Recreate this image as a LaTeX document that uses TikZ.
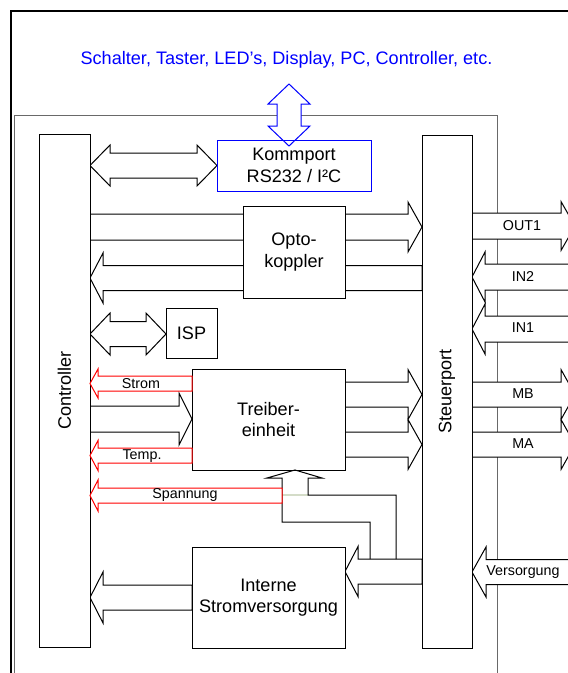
\documentclass[tikz,border=0pt]{standalone}
\usepackage{fontspec}
\setmainfont{Liberation Sans}
\usetikzlibrary{calc}
\definecolor{myblue}{RGB}{0,0,255}
\definecolor{myred}{RGB}{255,0,0}
\definecolor{framegray}{RGB}{105,105,105}
\definecolor{seam}{RGB}{212,220,200}
% right-pointing block arrow: [opts]{tail}{tip}{yc}{shaft half}{head half}{head length}
\newcommand\ArrR[7][]{\draw[blk,#1] let \p1=(#2), \p2=(#3), \p3=(0,#4) in
  (\x1,\y3-#5pt) -- (\x2-#7pt,\y3-#5pt) -- (\x2-#7pt,\y3-#6pt) -- (\x2,\y3) --
  (\x2-#7pt,\y3+#6pt) -- (\x2-#7pt,\y3+#5pt) -- (\x1,\y3+#5pt) -- cycle;}
% left-pointing block arrow: [opts]{tip}{tail}{yc}{shaft half}{head half}{head length}
\newcommand\ArrL[7][]{\draw[blk,#1] let \p1=(#2), \p2=(#3), \p3=(0,#4) in
  (\x2,\y3-#5pt) -- (\x1+#7pt,\y3-#5pt) -- (\x1+#7pt,\y3-#6pt) -- (\x1,\y3) --
  (\x1+#7pt,\y3+#6pt) -- (\x1+#7pt,\y3+#5pt) -- (\x2,\y3+#5pt) -- cycle;}
% double block arrow: [opts]{left tip}{right tip}{yc}{shaft half}{head half}{head length}
\newcommand\ArrLR[7][]{\draw[blk,#1] let \p1=(#2), \p2=(#3), \p3=(0,#4) in
  (\x1,\y3) -- (\x1+#7pt,\y3-#6pt) -- (\x1+#7pt,\y3-#5pt) -- (\x2-#7pt,\y3-#5pt) --
  (\x2-#7pt,\y3-#6pt) -- (\x2,\y3) -- (\x2-#7pt,\y3+#6pt) -- (\x2-#7pt,\y3+#5pt) --
  (\x1+#7pt,\y3+#5pt) -- (\x1+#7pt,\y3+#6pt) -- cycle;}
\begin{document}
\begin{tikzpicture}[x=1pt,y=-1pt,
  blk/.style={draw=black,fill=white,line width=1pt,line join=miter},
  redarr/.style={draw=myred},
  box/.style={draw=black,fill=white,line width=1pt,inner sep=0pt,outer sep=0pt,
    anchor=north west,align=center,font=\fontsize{18.1pt}{21.5pt}\selectfont},
  biglbl/.style={inner sep=0pt,align=center,font=\fontsize{18.1pt}{21.5pt}\selectfont},
  smalllbl/.style={inner sep=0pt,font=\fontsize{14.3pt}{16pt}\selectfont}]
\useasboundingbox (0,0) rectangle (568,673);
\clip (0,0) rectangle (568,673);
% frames
\draw[line width=2pt,black] (11,10.5) rectangle (600,700);
\draw[line width=1pt,framegray] (14,115) rectangle (497.5,700);
% title
\node[biglbl,text=myblue] (title) at (286.5,60) {Schalter, Taster, LED’s, Display, PC, Controller, etc.};
% helper coordinates
\coordinate (redge) at (585,0);
\coordinate (rtip) at (575,0);
\coordinate (spanR) at (282,0);
% blue vertical double arrow
\draw[blk,draw=myblue] (289,84) -- (310,104) -- (301,104) -- (301,126) -- (310,126) -- (289,146)
  -- (268,126) -- (277,126) -- (277,104) -- (268,104) -- cycle;
% box geometry (drawn later)
\path (39,134) node[box,draw=none,fill=none,minimum width=51pt,minimum height=513pt] (ctrl) {};
\path (422,135) node[box,draw=none,fill=none,minimum width=50pt,minimum height=513pt] (stp) {};
\path (217,140) node[box,draw=none,fill=none,minimum width=154pt,minimum height=51pt] (komm) {};
\path (243,206) node[box,draw=none,fill=none,minimum width=102pt,minimum height=92pt] (opto) {};
\path (166,308) node[box,draw=none,fill=none,minimum width=51pt,minimum height=50pt] (isp) {};
\path (192,369) node[box,draw=none,fill=none,minimum width=153pt,minimum height=101pt] (treib) {};
\path (192,547) node[box,draw=none,fill=none,minimum width=153pt,minimum height=101pt] (intern) {};
% black block arrows
\ArrLR{ctrl.east}{komm.west}{165.5}{12.5}{20.5}{20}
\ArrR{ctrl.east}{stp.west}{227}{13}{25}{14}
\ArrL{ctrl.east}{stp.west}{278}{12.5}{25}{13}
\ArrLR{ctrl.east}{isp.west}{334}{12.5}{21}{20}
\ArrR{ctrl.east}{treib.west}{419}{13}{26}{13}
\ArrR{treib.east}{stp.west}{394.5}{12.5}{25}{14}
\ArrR{treib.east}{stp.west}{444.5}{12.5}{25}{14}
\ArrL{intern.east}{stp.west}{571.5}{12.5}{25}{13}
\ArrL{ctrl.east}{intern.west}{597.5}{12.5}{25.5}{13}
% right side arrows
\ArrR{stp.east}{rtip}{226}{13}{24.5}{14}
\ArrL{stp.east}{redge}{277}{13}{25}{13}
\ArrL{stp.east}{redge}{329}{13}{25}{13}
\ArrR{stp.east}{rtip}{394.5}{12.5}{25}{14}
\ArrR{stp.east}{rtip}{444.5}{12.5}{25}{14}
\ArrL{stp.east}{redge}{572}{12.5}{25}{14}
% boxes
\node[box,minimum width=51pt,minimum height=513pt] (ctrlB) at (39,134) {};
\node[box,minimum width=50pt,minimum height=513pt] (stpB) at (422,135) {};
\node[box,fill=none,draw=myblue,minimum width=154pt,minimum height=51pt] (kommB) at (217,140) {Kommport\\RS232 / I²C};
\node[box,minimum width=102pt,minimum height=92pt] (optoB) at (243,206) {Opto-\\koppler};
\node[box,minimum width=51pt,minimum height=50pt] (ispB) at (166,308) {ISP};
\node[box,minimum width=153pt,minimum height=101pt] (treibB) at (192,369) {Treiber-\\einheit};
\node[box,minimum width=153pt,minimum height=101pt] (internB) at (192,547) {Interne\\Stromversorgung};
\node[biglbl,rotate=90] (ctrlLbl) at (ctrl.center) {Controller};
\node[biglbl,rotate=90] (stpLbl) at (stp.center) {Steuerport};
% bent arrow up into Treibereinheit
\draw[line width=1.4pt,seam] (282,495) -- (308,495);
\draw[line width=1pt,line join=miter] (370,559) -- (370,522) -- (282,522) -- (282,478) -- (267,478)
  -- (295,470) -- (322,478) -- (308,478) -- (308,495) -- (396,495) -- (396,559);
% red arrows
\ArrL[redarr]{ctrl.east}{treib.west}{383.5}{7.5}{14.5}{8}
\ArrL[redarr]{ctrl.east}{treib.west}{455.5}{7.5}{15}{8}
\ArrL[redarr]{ctrl.east}{spanR}{495.5}{7.5}{15.5}{8}
% small labels
\node[smalllbl] (lstrom) at (141,383.5) {Strom};
\node[smalllbl] (ltemp) at (142,456) {Temp.};
\node[smalllbl] (lspan) at (185,495) {Spannung};
\node[smalllbl] (lout1) at (522,226) {OUT1};
\node[smalllbl] (lin2) at (523,277) {IN2};
\node[smalllbl] (lin1) at (523,328) {IN1};
\node[smalllbl] (lmb) at (523,394) {MB};
\node[smalllbl] (lma) at (523,444) {MA};
\node[smalllbl] (lvers) at (523,572) {Versorgung};
\end{tikzpicture}
\end{document}
